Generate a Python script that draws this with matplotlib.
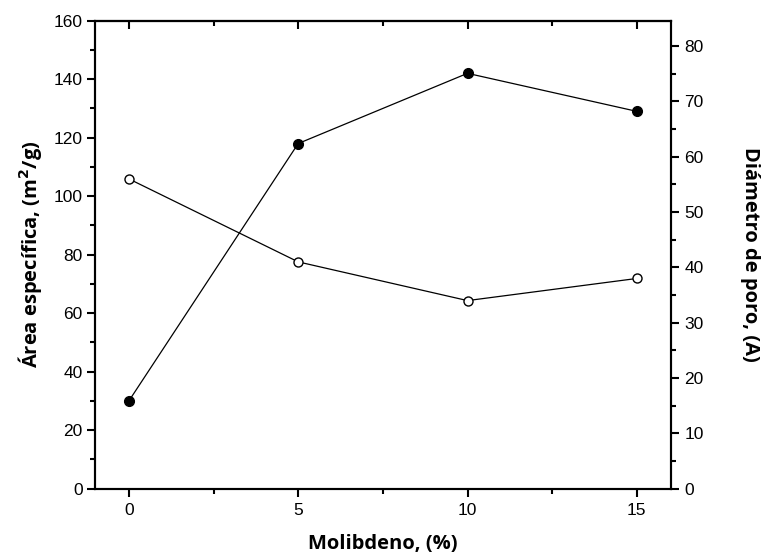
import matplotlib
matplotlib.use("Agg")
import matplotlib.pyplot as plt
from matplotlib.ticker import MultipleLocator

# Mo loading (%)
molibdeno = [0, 5, 10, 15]
# specific surface area, m2/g (left axis)
area = [30, 118, 142, 129]
# pore diameter, A (right axis)
diametro = [56, 41, 34, 38]

fig = plt.figure(figsize=(7.67, 5.59), dpi=100)
ax1 = fig.add_axes([0.1239, 0.1258, 0.8744 - 0.1239, 0.963 - 0.1258])
ax2 = ax1.twinx()

ax1.plot(molibdeno, area, color="black", lw=0.9, marker="o", ms=7,
         mfc="black", mec="black", zorder=3)
ax2.plot(molibdeno, diametro, color="black", lw=0.9, marker="o", ms=6.5,
         mfc="white", mec="black", mew=1.0, zorder=3)

ax1.set_xlim(-1, 16)
ax1.set_ylim(0, 160)
ax2.set_ylim(0, 84.6)

ax1.xaxis.set_major_locator(MultipleLocator(5))
ax1.xaxis.set_minor_locator(MultipleLocator(2.5))
ax1.yaxis.set_major_locator(MultipleLocator(20))
ax1.yaxis.set_minor_locator(MultipleLocator(10))
ax2.yaxis.set_major_locator(MultipleLocator(10))
ax2.yaxis.set_minor_locator(MultipleLocator(5))

tick_font = "Liberation Sans"
tick_size = 12.5
for ax in (ax1, ax2):
    for sp in ax.spines.values():
        sp.set_linewidth(1.5)

ax1.tick_params(axis="x", which="both", direction="out", top=False)
ax1.tick_params(axis="x", which="major", length=6, width=1.5, labelsize=tick_size, pad=4)
ax1.tick_params(axis="x", which="minor", length=3.5, width=1.5)
ax1.tick_params(axis="y", which="both", direction="out", right=False)
ax1.tick_params(axis="y", which="major", length=6, width=1.5, labelsize=tick_size, pad=3)
ax1.tick_params(axis="y", which="minor", length=3.5, width=1.5)
ax2.tick_params(axis="y", which="both", direction="out", left=False)
ax2.tick_params(axis="y", which="major", length=6, width=1.5, labelsize=tick_size, pad=4)
ax2.tick_params(axis="y", which="minor", length=3.5, width=1.5)

# mirrored inward ticks along the top edge
top = ax1.secondary_xaxis("top")
top.xaxis.set_major_locator(MultipleLocator(5))
top.xaxis.set_minor_locator(MultipleLocator(2.5))
top.tick_params(axis="x", which="both", direction="in", labeltop=False)
top.tick_params(axis="x", which="major", length=6, width=1.5)
top.tick_params(axis="x", which="minor", length=3.5, width=1.5)
top.spines["top"].set_linewidth(1.5)

label_font = dict(family="Open Sans", weight="bold", stretch="normal", size=14.5)
ax1.set_xlabel("Molibdeno, (%)", fontdict=label_font, labelpad=12)
ax1.set_ylabel("Área específica, (m$^\\mathbf{2}$/g)", fontdict=label_font, labelpad=7)
ax2.set_ylabel("Diámetro de poro, (A)", fontdict=label_font, rotation=-90,
               labelpad=26, va="bottom")

for t in ax1.get_xticklabels() + ax1.get_yticklabels() + ax2.get_yticklabels():
    t.set_fontfamily(tick_font)

fig.savefig("out.png", dpi=100)
